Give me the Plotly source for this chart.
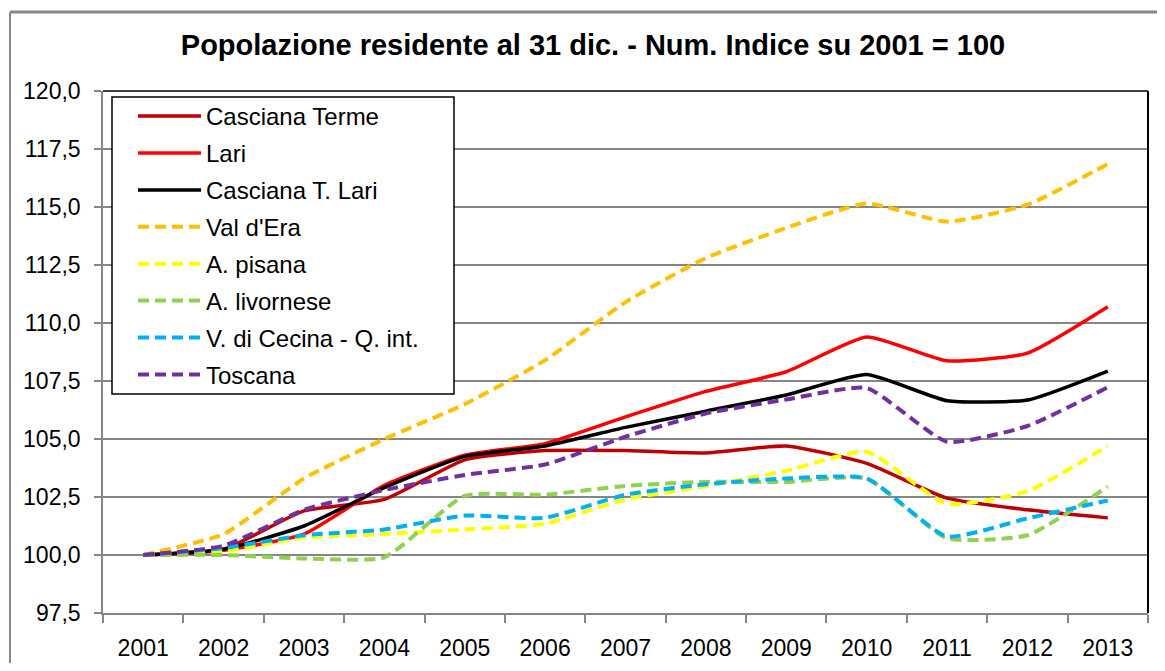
import plotly.graph_objects as go

years = ["2001", "2002", "2003", "2004", "2005", "2006", "2007",
         "2008", "2009", "2010", "2011", "2012", "2013"]

casciana_terme = [100.0, 100.25, 101.9, 102.4, 104.1, 104.5, 104.5, 104.4, 104.7, 103.95, 102.45, 101.95, 101.6]
lari = [100.0, 100.2, 100.9, 103.0, 104.3, 104.8, 105.95, 107.05, 107.9, 109.4, 108.37, 108.7, 110.7]
casciana_t_lari = [100.0, 100.25, 101.25, 102.9, 104.25, 104.7, 105.5, 106.2, 106.9, 107.78, 106.65, 106.68, 107.93]
val_d_era = [100.0, 100.9, 103.3, 105.0, 106.5, 108.4, 110.9, 112.8, 114.1, 115.15, 114.37, 115.1, 116.85]
a_pisana = [100.0, 100.15, 100.75, 100.9, 101.1, 101.35, 102.4, 102.97, 103.63, 104.45, 102.2, 102.75, 104.7]
a_livornese = [100.0, 100.0, 99.85, 99.9, 102.55, 102.6, 102.98, 103.15, 103.15, 103.3, 100.72, 100.85, 102.95]
v_cecina = [100.0, 100.3, 100.85, 101.1, 101.7, 101.6, 102.6, 103.05, 103.3, 103.3, 100.8, 101.58, 102.35]
toscana = [100.0, 100.4, 101.95, 102.8, 103.45, 103.9, 105.1, 106.1, 106.7, 107.2, 104.88, 105.56, 107.23]

series = [
    ("Casciana Terme", casciana_terme, "#C00000", "solid"),
    ("Lari", lari, "#FF0000", "solid"),
    ("Casciana T. Lari", casciana_t_lari, "#000000", "solid"),
    ("Val d'Era", val_d_era, "#FFC000", "dash"),
    ("A. pisana", a_pisana, "#FFFF00", "dash"),
    ("A. livornese", a_livornese, "#92D050", "dash"),
    ("V. di Cecina - Q. int.", v_cecina, "#00B0F0", "dash"),
    ("Toscana", toscana, "#7030A0", "dash"),
]

y_ticks = [97.5, 100.0, 102.5, 105.0, 107.5, 110.0, 112.5, 115.0, 117.5, 120.0]

FONT = "Liberation Sans, Arial, sans-serif"

fig = go.Figure()
for i, (name, vals, color, style) in enumerate(series):
    fig.add_trace(go.Scatter(
        x=years, y=vals, name=name, mode="lines",
        legendgroup="g%d" % i,
        line=dict(color=color, width=3.5 if style == "solid" else 4,
                  dash="solid" if style == "solid" else "11px,6px",
                  shape="spline", smoothing=0.5),
    ))

# page body has an 8px margin: figure origin is at page (8, 8)
OFF = 8
W, H = 1165 - 2 * OFF, 671 - 2 * OFF
L, T = 103 - OFF, 91 - OFF
pw, ph = 1045, 522
R, B = W - L - pw, H - T - ph

def px(xpage):
    return (xpage - OFF - L) / pw

def py(ypage):
    return (T + ph - (ypage - OFF)) / ph

grid = "#868686"
fig.update_layout(
    width=W, height=H,
    margin=dict(l=L, r=R, t=T, b=B, pad=0, autoexpand=False),
    paper_bgcolor="white", plot_bgcolor="white",
    separators=",.",
    font=dict(family=FONT, size=23, color="black"),
    title=dict(text="<b>Popolazione residente al 31 dic. - Num. Indice su 2001 = 100</b>",
               font=dict(family=FONT, size=29, color="black"),
               x=(593 - OFF) / W, xanchor="center", xref="container",
               y=1 - (45 - OFF) / H, yanchor="middle", yref="container",
               automargin=False),
    showlegend=True,
    legend=dict(x=px(133), y=py(94), xanchor="left", yanchor="top",
                bgcolor="rgba(0,0,0,0)", borderwidth=0,
                font=dict(family=FONT, size=24, color="black"),
                itemwidth=63, tracegroupgap=2.7, traceorder="grouped",
                itemclick=False),
    xaxis=dict(type="category", showgrid=False, showline=True, linecolor=grid,
               linewidth=1.5, ticks="outside", tickson="boundaries",
               ticklen=8, tickcolor=grid, tickwidth=1.5,
               tickfont=dict(family=FONT, size=23), zeroline=False,
               ticklabelstandoff=14, range=[-0.5, 12.5], automargin=False),
    yaxis=dict(range=[97.5, 120.0], tickvals=y_ticks, tickformat=".1f",
               showgrid=True, gridcolor=grid, gridwidth=1.5,
               showline=True, linecolor=grid, linewidth=1.5,
               ticks="outside", ticklen=7, tickcolor=grid, tickwidth=1.5,
               tickfont=dict(family=FONT, size=23), zeroline=False,
               ticklabelstandoff=9, automargin=False),
    shapes=[
        # plot-area border (top and right, black)
        dict(type="line", xref="paper", yref="paper", x0=0, x1=1, y0=1, y1=1,
             line=dict(color="black", width=1.5)),
        dict(type="line", xref="paper", yref="paper", x0=1, x1=1, y0=0, y1=1,
             line=dict(color="black", width=2)),
        # legend box
        dict(type="rect", xref="paper", yref="paper", layer="above",
             x0=px(112), x1=px(454), y0=py(394), y1=py(97),
             fillcolor="white", line=dict(color="black", width=1.5)),
        # chart-area border (gray)
        dict(type="line", xref="paper", yref="paper", x0=px(10), x1=px(1180),
             y0=py(12), y1=py(12), line=dict(color="#888888", width=3)),
        dict(type="line", xref="paper", yref="paper", x0=px(10), x1=px(10),
             y0=py(12), y1=py(690), line=dict(color="#888888", width=2)),
    ],
)

fig.write_html("out.html")
